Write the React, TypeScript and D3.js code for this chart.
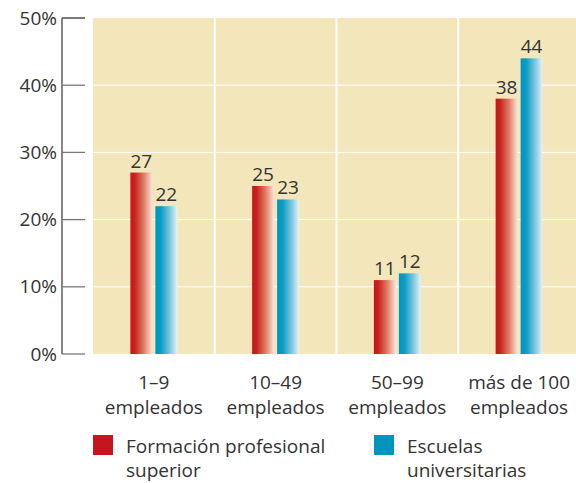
import React from "react";
import * as d3 from "d3";

const categories: string[][] = [
  ["1–9", "empleados"],
  ["10–49", "empleados"],
  ["50–99", "empleados"],
  ["más de 100", "empleados"],
];
const seriesNames = ["Formación profesional superior", "Escuelas universitarias"];
const formacion = [27, 25, 11, 38];
const escuelas = [22, 23, 12, 44];
const yTicks = [0, 10, 20, 30, 40, 50];

const W = 576;
const H = 483;
const plotLeft = 93;
const plotRight = 580;
const plotTop = 18;
const plotBottom = 354;
const font = "'Open Sans', 'Noto Sans', sans-serif";
const textColor = "#333";

export default function App() {
  const x = d3
    .scaleBand<number>()
    .domain(categories.map((_, i) => i))
    .range([plotLeft, plotRight])
    .padding(0);
  const y = d3.scaleLinear().domain([0, 50]).range([plotBottom, plotTop]);
  const barW = 22;
  const gap = 3;
  const series = [
    { values: formacion, grad: "gradRed" },
    { values: escuelas, grad: "gradBlue" },
  ];

  return (
    <svg width={W} height={H} style={{ position: "absolute", left: 0, top: 0 }}>
      <defs>
        <linearGradient id="gradRed" x1="0" x2="1" y1="0" y2="0">
          <stop offset="0" stopColor="#c4161c" />
          <stop offset="0.2" stopColor="#c8231f" />
          <stop offset="0.6" stopColor="#e07a62" />
          <stop offset="1" stopColor="#fbe4dc" />
        </linearGradient>
        <linearGradient id="gradBlue" x1="0" x2="1" y1="0" y2="0">
          <stop offset="0" stopColor="#0095bf" />
          <stop offset="0.25" stopColor="#0a9cc4" />
          <stop offset="0.65" stopColor="#7cc5df" />
          <stop offset="1" stopColor="#e6f3f8" />
        </linearGradient>
        <clipPath id="plotClip">
          <rect x={0} y={0} width={W} height={H} />
        </clipPath>
      </defs>
      <g clipPath="url(#plotClip)">
        <rect
          x={plotLeft}
          y={plotTop}
          width={plotRight - plotLeft}
          height={plotBottom - plotTop}
          fill="#f2e6ba"
        />
        {yTicks.slice(1, -1).map((t) => (
          <line
            key={t}
            x1={plotLeft}
            x2={plotRight}
            y1={y(t)}
            y2={y(t)}
            stroke="#fff"
            strokeWidth={1}
          />
        ))}
        {categories.slice(1).map((_, i) => (
          <line
            key={i}
            x1={x(i + 1)!}
            x2={x(i + 1)!}
            y1={plotTop}
            y2={plotBottom}
            stroke="#fff"
            strokeWidth={2}
          />
        ))}
        {categories.map((_, i) => {
          const cx = x(i)! + x.bandwidth() / 2;
          return series.map((s, j) => {
            const bx = j === 0 ? cx - gap / 2 - barW : cx + gap / 2;
            const v = s.values[i];
            return (
              <g key={`${i}-${j}`}>
                <rect
                  x={bx}
                  y={y(v)}
                  width={barW}
                  height={plotBottom - y(v)}
                  fill={`url(#${s.grad})`}
                />
                <text
                  x={bx + barW / 2}
                  y={y(v) - 5}
                  textAnchor="middle"
                  fontFamily={font}
                  fontSize={19}
                  fill={textColor}
                >
                  {v}
                </text>
              </g>
            );
          });
        })}
      </g>
      {/* y axis */}
      <line x1={62} x2={62} y1={plotTop} y2={plotBottom} stroke="#444" strokeWidth={1.3} />
      {yTicks.map((t) => (
        <g key={t}>
          <line x1={62} x2={85} y1={y(t)} y2={y(t)} stroke={t === 50 ? "#333" : "#777"} strokeWidth={1.3} />
          <text
            x={57}
            y={y(t)}
            dy="0.35em"
            textAnchor="end"
            fontFamily={font}
            fontSize={19}
            fill={textColor}
          >
            {t}%
          </text>
        </g>
      ))}
      {/* x labels */}
      {categories.map((lines, i) => {
        const cx = x(i)! + x.bandwidth() / 2;
        return (
          <text
            key={i}
            textAnchor="middle"
            fontFamily={font}
            fontSize={19}
            fill={textColor}
          >
            {lines.map((l, k) => (
              <tspan key={k} x={cx} y={389 + k * 25}>
                {l}
              </tspan>
            ))}
          </text>
        );
      })}
      {/* legend */}
      {[
        { x: 93, color: "#c4161c", lines: ["Formación profesional", "superior"] },
        { x: 374, color: "#0095bf", lines: ["Escuelas", "universitarias"] },
      ].map((l, i) => (
        <g key={i}>
          <rect x={l.x} y={435} width={20} height={20} fill={l.color} />
          <text fontFamily={font} fontSize={19} fill={textColor}>
            {l.lines.map((s, k) => (
              <tspan key={k} x={l.x + 33} y={453 + k * 24}>
                {s}
              </tspan>
            ))}
          </text>
        </g>
      ))}
      <title>{seriesNames.join(", ")}</title>
    </svg>
  );
}
